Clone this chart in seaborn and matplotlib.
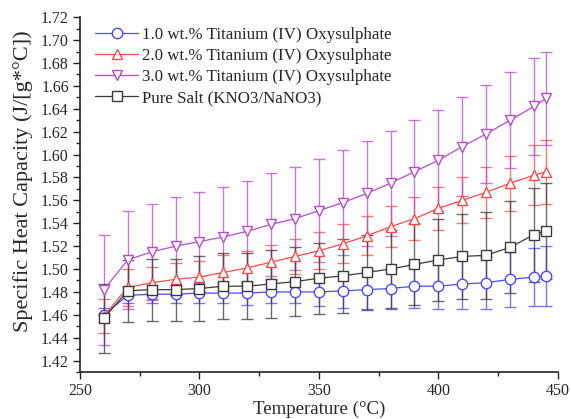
import matplotlib
matplotlib.use("Agg")
import matplotlib.pyplot as plt
from matplotlib.ticker import MultipleLocator, FormatStrFormatter
import seaborn as sns
import pandas as pd

# Temperatures (degC)
temps = [260, 270, 280, 290, 300, 310, 320, 330, 340, 350,
         360, 370, 380, 390, 400, 410, 420, 430, 440, 445]

# Specific heat capacity values
cp_1wt = [1.460, 1.477, 1.478, 1.478, 1.479, 1.479, 1.479, 1.480, 1.480, 1.480,
          1.481, 1.482, 1.483, 1.485, 1.485, 1.487, 1.488, 1.491, 1.493, 1.494]
cp_2wt = [1.459, 1.484, 1.488, 1.491, 1.493, 1.497, 1.501, 1.506, 1.511, 1.516,
          1.522, 1.529, 1.537, 1.544, 1.553, 1.560, 1.567, 1.575, 1.582, 1.585]
cp_3wt = [1.482, 1.508, 1.515, 1.520, 1.524, 1.528, 1.533, 1.539, 1.544, 1.551,
          1.558, 1.566, 1.575, 1.585, 1.595, 1.607, 1.618, 1.630, 1.642, 1.649]
cp_salt = [1.457, 1.481, 1.482, 1.482, 1.483, 1.485, 1.485, 1.487, 1.489, 1.492,
           1.494, 1.497, 1.500, 1.504, 1.508, 1.511, 1.512, 1.519, 1.530, 1.533]

# Error bar half-widths
err_1wt = [0.006, 0.007, 0.008, 0.008, 0.009, 0.009, 0.010, 0.010, 0.010, 0.012,
           0.015, 0.017, 0.018, 0.019, 0.020, 0.022, 0.023, 0.024, 0.025, 0.026]
err_2wt = [0.015, 0.016, 0.014, 0.014, 0.014, 0.015, 0.015, 0.015, 0.015, 0.016,
           0.017, 0.017, 0.018, 0.019, 0.019, 0.020, 0.022, 0.024, 0.026, 0.028]
err_3wt = [0.048, 0.043, 0.042, 0.043, 0.043, 0.044, 0.044, 0.045, 0.045, 0.045,
           0.046, 0.046, 0.046, 0.045, 0.044, 0.043, 0.043, 0.042, 0.042, 0.041]
err_salt = [0.030, 0.027, 0.027, 0.027, 0.028, 0.029, 0.029, 0.030, 0.030, 0.031,
            0.032, 0.033, 0.034, 0.035, 0.036, 0.037, 0.038, 0.040, 0.041, 0.042]

labels = ["1.0 wt.% Titanium (IV) Oxysulphate",
          "2.0 wt.% Titanium (IV) Oxysulphate",
          "3.0 wt.% Titanium (IV) Oxysulphate",
          "Pure Salt (KNO3/NaNO3)"]
values = [cp_1wt, cp_2wt, cp_3wt, cp_salt]
errors = [err_1wt, err_2wt, err_3wt, err_salt]
colors = ["#4b4bff", "#ff4a4a", "#b64ccc", "#3a3a3a"]
markers = ["o", "^", "v", "s"]

sns.set_style("ticks")
plt.rcParams["font.family"] = ["Liberation Serif", "DejaVu Serif"]

fig = plt.figure(figsize=(5.71, 4.19), dpi=100)
ax = fig.add_axes([0.140, 0.112, 0.837, 0.847])

for lab, vals, errs, col, mk in zip(labels, values, errors, colors, markers):
    df = pd.DataFrame({"Temperature": temps, "Cp": vals})
    ax.errorbar(temps, vals, yerr=errs, fmt="none", ecolor=col, alpha=0.75,
                elinewidth=1.0, capsize=4, capthick=1.0, zorder=2)
    sns.lineplot(data=df, x="Temperature", y="Cp", ax=ax, color=col,
                 marker=mk, markersize=7.5, mfc="white", mec=col, mew=1.0,
                 linewidth=0.9, label=lab, zorder=3)

ax.set_xlim(250, 450)
ax.set_ylim(1.41, 1.72)
ax.xaxis.set_major_locator(MultipleLocator(50))
ax.xaxis.set_minor_locator(MultipleLocator(25))
ax.yaxis.set_major_locator(MultipleLocator(0.02))
ax.yaxis.set_minor_locator(MultipleLocator(0.01))
ax.yaxis.set_major_formatter(FormatStrFormatter("%.2f"))
ax.tick_params(axis="both", which="major", direction="out", length=5,
               width=1.0, labelsize=11.5, color="#222222", pad=3)
ax.tick_params(axis="both", which="minor", direction="out", length=3,
               width=1.0, color="#222222")

sns.despine(ax=ax)
for side in ["left", "bottom"]:
    ax.spines[side].set_linewidth(1.2)
    ax.spines[side].set_color("#222222")

ax.set_xlabel("Temperature (\u00b0C)", fontsize=13.6, labelpad=1)
ax.set_ylabel("Specific Heat Capacity (J/[g*\u00b0C])", fontsize=16)
ax.yaxis.set_label_coords(-0.098, 0.537)

ax.legend(loc="upper left", bbox_to_anchor=(-0.01, 1.03), frameon=False,
          fontsize=12.2, handlelength=2.5, labelspacing=0.3, borderaxespad=0.8,
          handletextpad=0.25)

fig.savefig("out.png", dpi=100)
